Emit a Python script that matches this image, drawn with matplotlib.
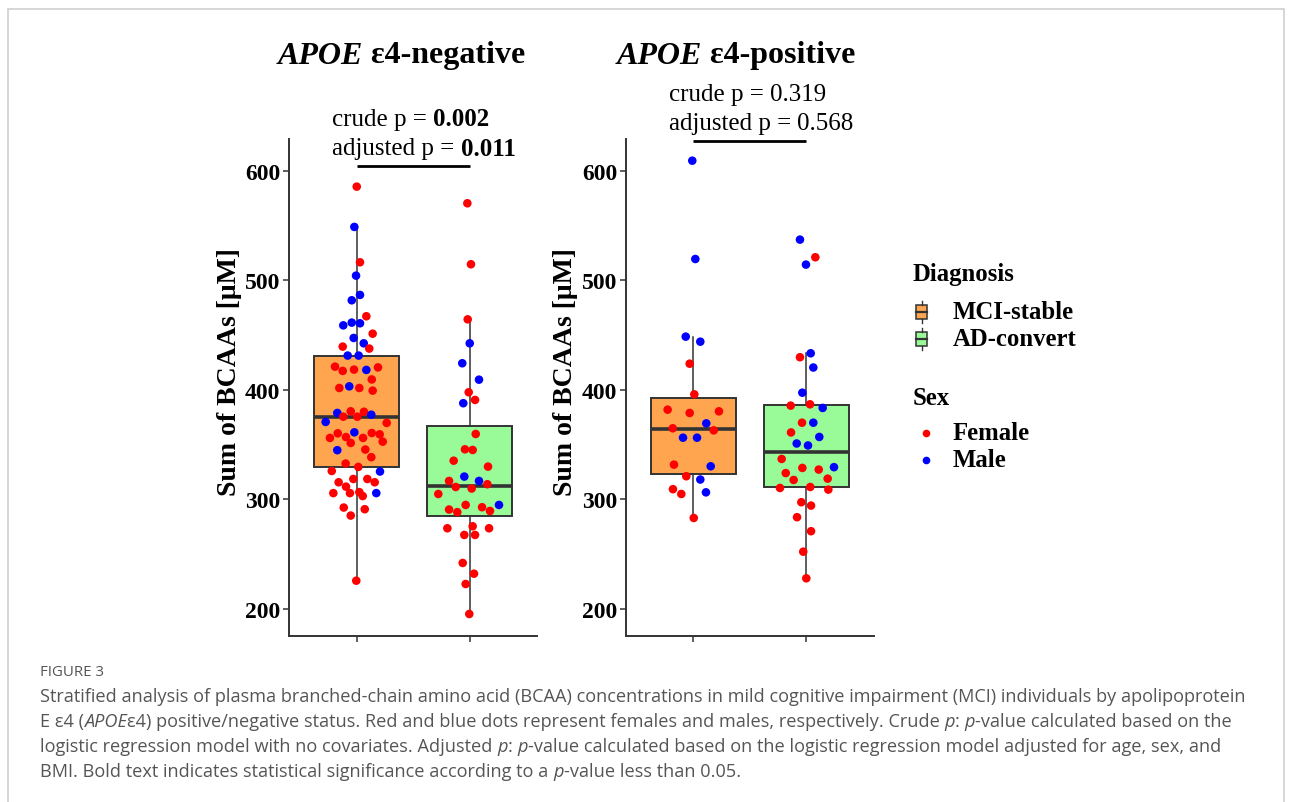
import numpy as np
import matplotlib
matplotlib.use("Agg")
import matplotlib.pyplot as plt
from matplotlib.patches import Rectangle
from matplotlib.lines import Line2D

# ---------------- data ----------------
groups = ["MCI-stable", "AD-convert"]
panel_titles = ["negative", "positive"]
crude_p = ["0.002", "0.319"]
adjusted_p = ["0.011", "0.568"]
p_significant = [True, False]
y_ticks = [200, 300, 400, 500, 600]

neg_mci_vals = [585.7, 548.9, 516.6, 504.4, 486.8, 481.9, 467.3, 459.0, 461.5, 460.9, 451.4, 447.5, 442.6,
                439.6, 437.8, 431.4, 431.4, 421.3, 417.4, 418.6, 418.3, 420.6, 409.6, 401.8, 403.3, 401.8,
                399.4, 379.0, 380.5, 375.6, 375.6, 380.1, 377.4, 370.8, 369.9, 356.2, 360.4, 357.0, 351.6,
                361.3, 356.2, 360.7, 359.5, 352.8, 345.0, 345.6, 338.6, 332.8, 329.7, 326.0, 325.5, 318.7,
                318.7, 315.7, 311.7, 315.7, 305.8, 305.8, 306.7, 303.1, 305.8, 292.6, 291.1, 285.3, 225.8]
neg_mci_sex = list("FMFMMMFMMMFMMFFMMFFFMFFFMFFMFFFFMMFFFFFMFFFFMFFFFFMFFFFFFFFFMFFFF")
neg_mci_jit = [0.002, -0.019, 0.031, -0.004, 0.031, -0.042, 0.087, -0.117, -0.042, 0.031, 0.143, -0.025, 0.064,
               -0.122, 0.113, -0.078, 0.019, -0.19, -0.122, -0.022, 0.087, 0.19, 0.135, -0.152, -0.064, 0.025,
               0.143, -0.17, -0.051, -0.117, 0.007, 0.066, 0.131, -0.273, 0.267, -0.235, -0.166, -0.093, -0.051,
               -0.019, 0.058, 0.135, 0.205, 0.232, -0.17, 0.078, 0.131, -0.096, 0.016, -0.219, 0.208, -0.028,
               0.096, -0.158, -0.093, 0.161, -0.205, -0.058, 0.025, 0.055, 0.175, -0.113, 0.073, -0.051, -0.002]

neg_ad_vals = [570.5, 514.8, 464.5, 442.6, 424.4, 409.4, 397.9, 390.9, 387.9, 359.8, 345.8, 345.2, 335.4,
               330.0, 320.9, 316.9, 316.9, 311.4, 310.0, 313.9, 305.0, 295.0, 295.0, 290.8, 288.4, 292.9,
               289.5, 273.7, 275.5, 273.7, 267.6, 267.6, 242.0, 232.2, 222.8, 195.4]
neg_ad_sex = list("FFFMMMFFMFFFFFMMFFFFFMFFFFFFFFFFFFFF")
neg_ad_jit = [-0.019, 0.013, -0.016, 0.002, -0.064, 0.084, -0.007, 0.049, -0.055, 0.055, -0.04, 0.028, -0.14,
              0.164, -0.046, 0.084, -0.181, -0.122, 0.019, 0.158, -0.276, 0.261, -0.034, -0.181, -0.108, 0.111,
              0.181, -0.196, 0.028, 0.173, -0.046, 0.049, -0.06, 0.04, -0.034, -0.002]

pos_mci_vals = [609.4, 519.6, 448.7, 444.1, 424.0, 396.0, 382.0, 379.0, 380.5, 369.5, 365.0, 363.1, 356.4,
                356.4, 331.8, 330.3, 321.2, 318.2, 309.4, 305.0, 306.5, 283.1]
pos_mci_sex = list("MMMMFFFFFMFFMMFMFMFFMF")
pos_mci_jit = [-0.009, 0.018, -0.067, 0.062, -0.032, 0.009, -0.227, -0.032, 0.227, 0.115, -0.182, 0.181, -0.091,
               0.033, -0.171, 0.154, -0.062, 0.062, -0.18, -0.106, 0.112, 0.004]

pos_ad_vals = [537.3, 521.2, 514.5, 433.5, 429.9, 420.5, 397.5, 385.7, 386.9, 383.6, 370.1, 370.1, 361.2,
               357.1, 351.1, 349.3, 337.0, 328.8, 327.3, 329.5, 324.1, 317.8, 319.0, 310.5, 311.4, 309.0,
               297.5, 294.4, 283.8, 271.0, 252.3, 228.0]
pos_ad_sex = list("MFMMFMMFFMFMFMMMFFFMFFFFFFFFFFFF")
pos_ad_jit = [-0.056, 0.08, -0.003, 0.039, -0.056, 0.062, -0.035, -0.138, 0.033, 0.145, -0.038, 0.062, -0.135,
              0.115, -0.085, 0.015, -0.218, -0.035, 0.11, 0.245, -0.182, -0.112, 0.189, -0.233, 0.035, 0.195,
              -0.044, 0.042, -0.082, 0.042, -0.027, 0.0]

caption_title = "FIGURE 3"
caption_lines = [
    [("Stratified analysis of plasma branched-chain amino acid (BCAA) concentrations in mild cognitive impairment (MCI) individuals by apolipoprotein", "normal")],
    [("E \u03b54 (", "normal"), ("APOE", "italic"), ("\u03b54) positive/negative status. Red and blue dots represent females and males, respectively. Crude ", "normal"),
     ("p", "italic"), (": ", "normal"), ("p", "italic"), ("-value calculated based on the", "normal")],
    [("logistic regression model with no covariates. Adjusted ", "normal"), ("p", "italic"), (": ", "normal"), ("p", "italic"),
     ("-value calculated based on the logistic regression model adjusted for age, sex, and", "normal")],
    [("BMI. Bold text indicates statistical significance according to a ", "normal"), ("p", "italic"), ("-value less than 0.05.", "normal")],
]

# ---------------- style ----------------
W, H = 1293, 803
SERIF = "Liberation Serif"
SANS = "Open Sans"
box_colors = {"MCI-stable": "#FFA54F", "AD-convert": "#98FB98"}
sex_colors = {"F": "#FF0000", "M": "#0000FF"}
EDGE = "#333333"

fig = plt.figure(figsize=(W / 100, H / 100), dpi=100)
renderer = fig.canvas.get_renderer()


def fx(px):
    return px / W


def fy(py):
    return 1 - py / H


def text_width(s, **kw):
    t1 = fig.text(0, 0, s + "|", **kw)
    t2 = fig.text(0, 0, "|", **kw)
    w = t1.get_window_extent(renderer).width - t2.get_window_extent(renderer).width
    t1.remove()
    t2.remove()
    return w


def draw_runs(x_px, y_px, runs, common, ha="left"):
    widths = [text_width(s, **common, **st) for s, st in runs]
    total = sum(widths)
    x = x_px - (total / 2 if ha == "center" else 0)
    for (s, st), w in zip(runs, widths):
        fig.text(fx(x), fy(y_px), s, ha="left", va="center", **common, **st)
        x += w


# frame
fig.patches.append(Rectangle((fx(8), fy(830)), fx(1284) - fx(8), fy(10) - fy(830), transform=fig.transFigure,
                             fill=False, edgecolor="#cfcfcf", linewidth=1.2))

panels = [
    (288.7, [neg_mci_vals, neg_ad_vals], [neg_mci_sex, neg_ad_sex], [neg_mci_jit, neg_ad_jit]),
    (625.5, [pos_mci_vals, pos_ad_vals], [pos_mci_sex, pos_ad_sex], [pos_mci_jit, pos_ad_jit]),
]
ax_w = 248.6
ax_top, ax_bot = 140, 637
bracket_px = [167, 142]
annot_px = [(332, 120, 149), (669, 95, 124)]
title_cx = [401, 736]
ylabel_cx = [230, 566]

for i, (left, vals, sexes, jits) in enumerate(panels):
    ax = fig.add_axes([fx(left), fy(ax_bot), ax_w / W, (ax_bot - ax_top) / H])
    ax.set_xlim(0.4, 2.6)
    ax.set_ylim(175.3, 629.2)
    bp = ax.boxplot(vals, positions=[1, 2], widths=0.75, patch_artist=True, showfliers=False,
                    showcaps=False, whis=1.5,
                    boxprops=dict(edgecolor=EDGE, linewidth=1.4),
                    whiskerprops=dict(color=EDGE, linewidth=1.1),
                    medianprops=dict(color=EDGE, linewidth=2.6), zorder=1)
    for patch, g in zip(bp["boxes"], groups):
        patch.set_facecolor(box_colors[g])
    for k in range(2):
        xs = (k + 1) + np.asarray(jits[k])
        cs = [sex_colors[s] for s in sexes[k]]
        ax.scatter(xs, vals[k], s=38, c=cs, linewidths=0, zorder=3, clip_on=False)
    for sp in ["top", "right"]:
        ax.spines[sp].set_visible(False)
    for sp in ["left", "bottom"]:
        ax.spines[sp].set_color(EDGE)
        ax.spines[sp].set_linewidth(1.4)
    ax.set_xticks([1, 2])
    ax.set_xticklabels(["", ""])
    ax.set_yticks(y_ticks)
    ax.set_yticklabels([str(v) for v in y_ticks], fontfamily=SERIF, fontweight="bold", fontsize=17)
    ax.tick_params(axis="both", length=4, width=1.1, color=EDGE, pad=2)
    # bracket
    yb = 629.2 - (bracket_px[i] - ax_top) / 1.095
    ax.plot([1, 2], [yb, yb], color="black", linewidth=2, clip_on=False, solid_capstyle="butt")

    # annotations
    ax_px, y1, y2 = annot_px[i]
    common = dict(fontfamily=SERIF, fontsize=18, color="black")
    bold_p = {"fontweight": "bold"} if p_significant[i] else {"fontweight": "normal"}
    draw_runs(ax_px, y1, [("crude p = ", {"fontweight": "normal"}), (crude_p[i], bold_p)], common)
    draw_runs(ax_px, y2, [("adjusted p = ", {"fontweight": "normal"}), (adjusted_p[i], bold_p)], common)

    # title
    draw_runs(title_cx[i], 56, [("APOE", {"fontstyle": "italic"}), (" \u03b54-" + panel_titles[i], {"fontstyle": "normal"})],
              dict(fontfamily=SERIF, fontsize=23, fontweight="bold", color="black"), ha="center")
    # ylabel
    fig.text(fx(ylabel_cx[i]), fy(372), "Sum of BCAAs [\u03bcM]", rotation=90, ha="center", va="center",
             fontfamily=SERIF, fontweight="bold", fontsize=20)

# legend
lg = dict(fontfamily=SERIF, fontweight="bold", fontsize=17.8, color="black")
fig.text(fx(913), fy(275), "Diagnosis", ha="left", va="center", **lg)
for g, yc in zip(groups, [313, 340]):
    fig.patches.append(Rectangle((fx(916), fy(yc + 7)), 11 / W, 14 / H, transform=fig.transFigure,
                                 facecolor=box_colors[g], edgecolor=EDGE, linewidth=1.1))
    fig.lines.append(Line2D([fx(916), fx(927)], [fy(yc), fy(yc)], transform=fig.transFigure, color=EDGE, linewidth=1.6))
    fig.lines.append(Line2D([fx(921.5), fx(921.5)], [fy(yc - 11), fy(yc - 7)], transform=fig.transFigure, color=EDGE, linewidth=1))
    fig.lines.append(Line2D([fx(921.5), fx(921.5)], [fy(yc + 7), fy(yc + 11)], transform=fig.transFigure, color=EDGE, linewidth=1))
    fig.text(fx(953), fy(yc), g, ha="left", va="center", **lg)
fig.text(fx(913), fy(399), "Sex", ha="left", va="center", **lg)
for lab, key, yc in zip(["Female", "Male"], ["F", "M"], [434, 461]):
    fig.lines.append(Line2D([fx(926.5)], [fy(yc)], transform=fig.transFigure, marker="o", markersize=5.5,
                            markerfacecolor=sex_colors[key], markeredgewidth=0, linestyle="none"))
    fig.text(fx(953), fy(yc), lab, ha="left", va="center", **lg)

# caption
fig.text(fx(40), fy(673), caption_title, ha="left", va="center", fontfamily=SANS, fontsize=10.8, color="#555555")
cap_common = dict(fontfamily=SANS, fontsize=13.05, color="#555555")
for line, yc in zip(caption_lines, [697, 722, 747, 772]):
    runs = [(s, {"fontstyle": st}) for s, st in line]
    draw_runs(40, yc, runs, cap_common)

fig.savefig("out.png", dpi=100)
